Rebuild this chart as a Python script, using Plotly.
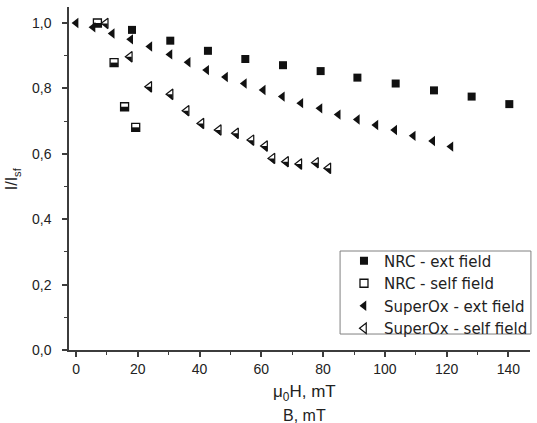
import plotly.graph_objects as go

# Critical current retention I/I_sf versus applied field (mT)
nrc_ext_b = [18.1, 30.5, 42.7, 54.8, 67.0, 79.2, 91.1, 103.5, 115.9, 128.1, 140.3]
nrc_ext_i = [0.979, 0.946, 0.915, 0.890, 0.871, 0.853, 0.833, 0.815, 0.794, 0.775, 0.752]

nrc_self_b = [6.9, 12.3, 15.7, 19.3]
nrc_self_i = [1.000, 0.879, 0.744, 0.681]

sox_ext_b = [0.0, 5.5, 11.7, 17.7, 23.9, 30.4, 36.3, 42.3, 48.4, 54.5, 60.6,
             66.8, 72.8, 79.0, 84.9, 91.1, 97.1, 103.2, 109.2, 115.5, 121.4]
sox_ext_i = [1.000, 0.987, 0.968, 0.950, 0.928, 0.904, 0.880, 0.856, 0.835, 0.815, 0.795,
             0.775, 0.755, 0.739, 0.720, 0.705, 0.688, 0.673, 0.655, 0.639, 0.622]

sox_self_b = [9.6, 17.4, 23.7, 30.6, 35.8, 40.6, 46.2, 51.8, 56.8, 61.2, 63.6,
              68.0, 72.3, 77.7, 81.7]
sox_self_i = [0.999, 0.897, 0.805, 0.782, 0.732, 0.693, 0.673, 0.663, 0.642, 0.624, 0.586,
              0.576, 0.569, 0.573, 0.556]

x_ticks = [0, 20, 40, 60, 80, 100, 120, 140]
y_ticks = [0.0, 0.2, 0.4, 0.6, 0.8, 1.0]

INK = "#111111"
AXIS = "#3c3c3c"
TEXT = "#222222"
FONT = "Liberation Sans, Arial, sans-serif"
LEG_FONT = "DejaVu Sans, Verdana, sans-serif"

X_RANGE = [-2.3, 147.0]
Y_RANGE = [0.0, 1.049]
PLOT_H = 343  # px height of the plotting area
# a hidden twin y-axis offset by a couple of pixels draws the dark
# lower halves of the half-filled symbols
half_shift = 2 * (Y_RANGE[1] - Y_RANGE[0]) / PLOT_H
Y2_RANGE = [Y_RANGE[0] + half_shift, Y_RANGE[1] + half_shift]

fig = go.Figure()

fig.add_trace(go.Scatter(
    x=nrc_ext_b, y=nrc_ext_i, mode="markers", name="NRC - ext field",
    marker=dict(symbol="square", size=8, color=INK, line=dict(width=0)),
))
fig.add_trace(go.Scatter(
    x=nrc_self_b, y=nrc_self_i, mode="markers", name="NRC - self field",
    marker=dict(symbol="square", size=8, color="white", line=dict(width=1.3, color=INK)),
))
fig.add_trace(go.Scatter(
    x=nrc_self_b, y=nrc_self_i, yaxis="y2", mode="markers", showlegend=False,
    hoverinfo="skip",
    marker=dict(symbol="line-ew", size=5.5, line=dict(width=4, color=INK)),
))
fig.add_trace(go.Scatter(
    x=sox_ext_b, y=sox_ext_i, mode="markers", name="SuperOx - ext field",
    marker=dict(symbol="triangle-left", size=9, color=INK, line=dict(width=0)),
))
fig.add_trace(go.Scatter(
    x=sox_self_b, y=sox_self_i, mode="markers", name="SuperOx - self field",
    marker=dict(symbol="triangle-left", size=9, color="white", line=dict(width=1.2, color=INK)),
))
fig.add_trace(go.Scatter(
    x=sox_self_b, y=sox_self_i, yaxis="y2", mode="markers", showlegend=False,
    hoverinfo="skip",
    marker=dict(symbol="triangle-ne", size=6.5, color=INK, line=dict(width=0)),
))

axis_common = dict(
    showline=True, linecolor=AXIS, linewidth=1.5, mirror=False,
    showgrid=False, zeroline=False,
    ticks="outside", ticklen=5, tickwidth=1.5, tickcolor=AXIS,
    tickfont=dict(family=FONT, size=14, color=TEXT),
)

fig.update_xaxes(
    range=X_RANGE, tickvals=x_ticks,
    minor=dict(dtick=10, tick0=0, ticks="outside", ticklen=3, tickwidth=1.2, tickcolor=AXIS),
    **axis_common,
)
fig.update_yaxes(
    range=Y_RANGE, tickvals=y_ticks, tickformat=".1f",
    minor=dict(dtick=0.1, tick0=0, ticks="outside", ticklen=3, tickwidth=1.2, tickcolor=AXIS),
    ticklabelstandoff=8,
    **axis_common,
)

fig.update_layout(
    width=537, height=423,
    margin=dict(l=69, r=7, t=7, b=73, autoexpand=False),
    paper_bgcolor="white", plot_bgcolor="white",
    separators=",.",
    font=dict(family=FONT, color=TEXT),
    yaxis2=dict(overlaying="y", range=Y2_RANGE, visible=False, showgrid=False,
                zeroline=False),
    legend=dict(
        x=0.5965, y=0.3076, xanchor="left", yanchor="top",
        borderwidth=0, bgcolor="rgba(0,0,0,0)",
        font=dict(family=LEG_FONT, size=15, color=TEXT),
        tracegroupgap=0, itemwidth=30,
    ),
    shapes=[
        # legend frame
        dict(type="rect", xref="paper", yref="paper",
             x0=0.588, x1=1.002, y0=0.0466, y1=0.2886,
             line=dict(color="#808080", width=1), fillcolor="rgba(0,0,0,0)",
             layer="above"),
    ],
    annotations=[
        dict(text="μ<sub>0</sub>H, mT", xref="paper", yref="paper",
             x=0.51, y=-0.125, xanchor="center", yanchor="middle", showarrow=False,
             font=dict(family=FONT, size=17, color=TEXT)),
        dict(text="B, mT", xref="paper", yref="paper",
             x=0.51, y=-0.19, xanchor="center", yanchor="middle", showarrow=False,
             font=dict(family=FONT, size=16, color=TEXT)),
        dict(text="I/I<sub>sf</sub>", xref="paper", yref="paper",
             x=-0.122, y=0.5, xanchor="center", yanchor="middle", showarrow=False,
             textangle=-90, font=dict(family=FONT, size=16, color=TEXT)),
    ],
)

fig.write_html("out.html")
